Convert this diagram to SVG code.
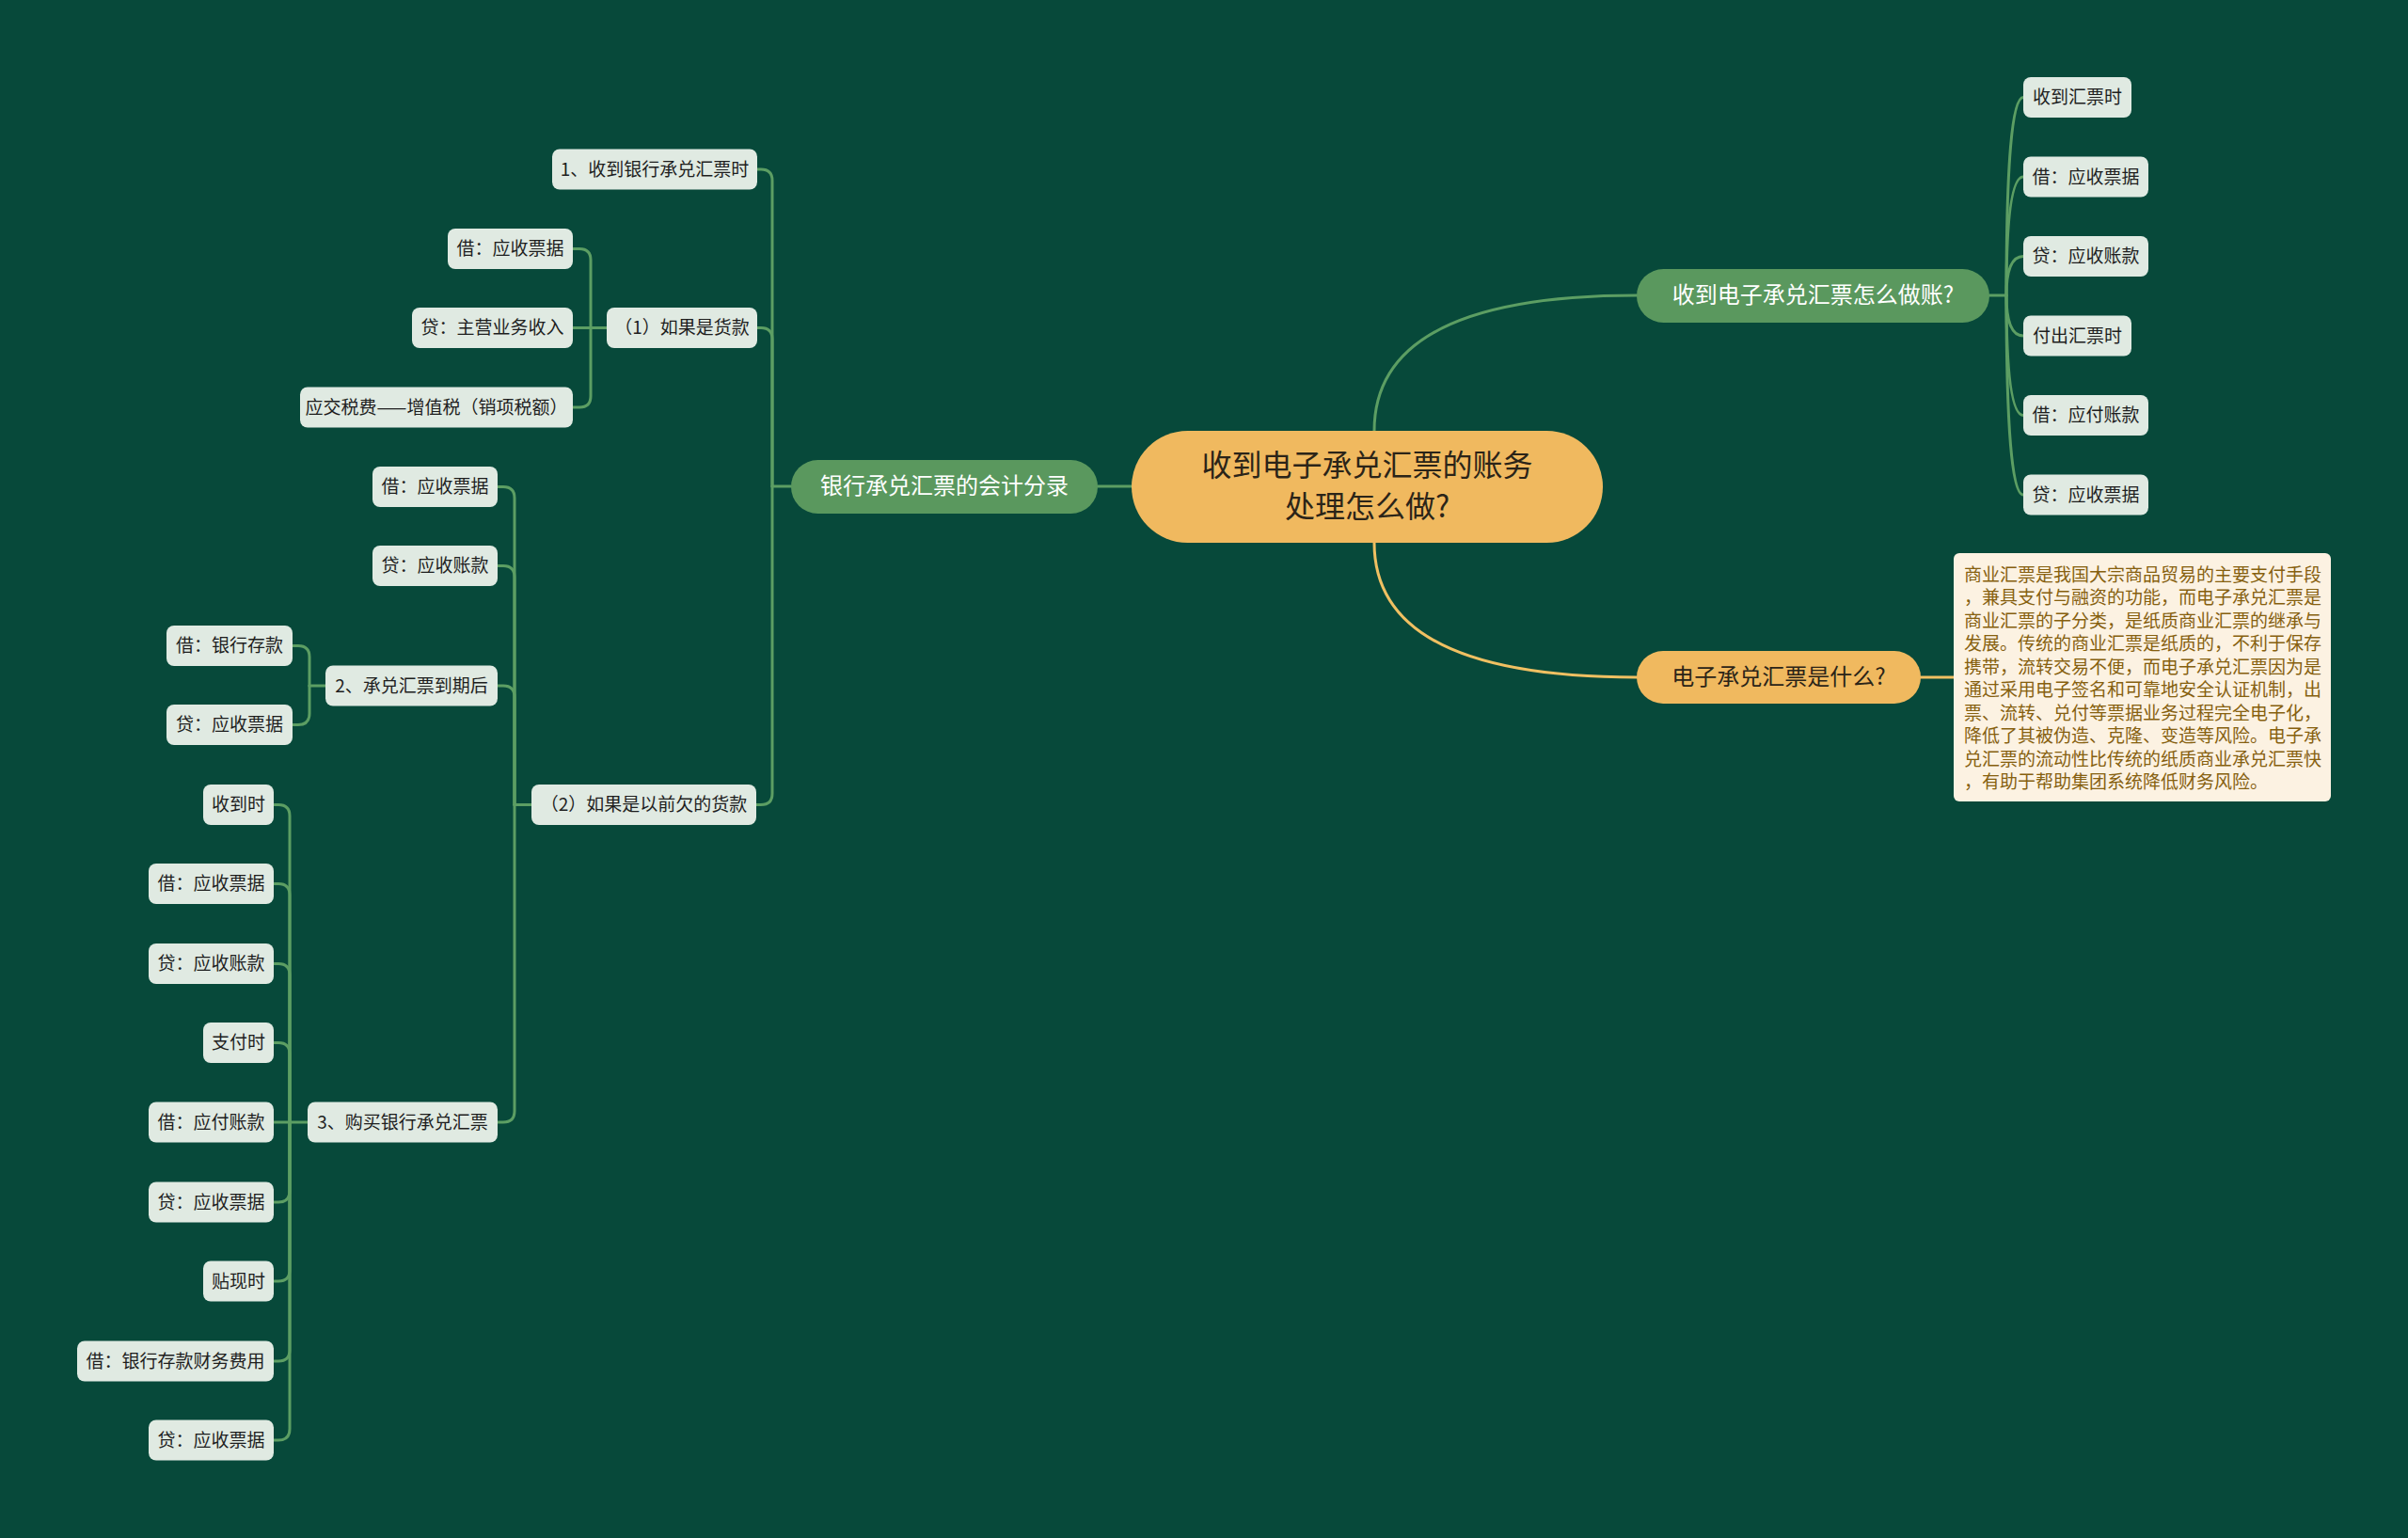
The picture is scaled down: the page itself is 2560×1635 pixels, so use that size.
<svg xmlns="http://www.w3.org/2000/svg" width="2560" height="1635" viewBox="0 0 2560 1635">
<defs>
<style>
text{font-family:"Noto Sans CJK SC","Noto Sans",sans-serif;dominant-baseline:central}
.leaf rect{fill:#E0EAE2}
.leaf text{font-size:19px;fill:#1e1e1e;text-anchor:middle}
.branch rect{fill:#5A985E}
.branch text{font-size:24px;fill:#ffffff;text-anchor:middle}
.gold rect{fill:#F0B95F}
.gold text{fill:#2b2418;text-anchor:middle}
.cg{fill:none;stroke:#5C9E63;stroke-width:3;stroke-linecap:round}
.co{fill:none;stroke:#F0C062;stroke-width:3;stroke-linecap:round}
.desc text{font-size:19px;fill:#86600F}
</style>
</defs>
<rect x="0" y="0" width="2560" height="1635" fill="#07493A"/>

<g id="connectors">
  <path class="cg" d="M1203 517 H1167"/>
  <path class="cg" d="M1461 458 Q1461 314 1740 314"/>
  <path class="co" d="M1461 577 Q1461 720 1740 720"/>
  <path class="co" d="M2042 720 H2077"/>
  <path class="cg" d="M2115 314 H2133"/>
  <path class="cg" d="M2133 314 Q2133 103.5 2151 103.5"/>
  <path class="cg" d="M2133 314 Q2133 188 2151 188"/>
  <path class="cg" d="M2133 314 Q2133 272.5 2151 272.5"/>
  <path class="cg" d="M2133 314 Q2133 357 2151 357"/>
  <path class="cg" d="M2133 314 Q2133 441.5 2151 441.5"/>
  <path class="cg" d="M2133 314 Q2133 526 2151 526"/>
  <path class="cg" d="M841 517 H821"/>
  <path class="cg" d="M821 517 V192 Q821 180 809 180 H805"/>
  <path class="cg" d="M821 517 V360.5 Q821 348.5 809 348.5 H805"/>
  <path class="cg" d="M821 517 V843.5 Q821 855.5 809 855.5 H804"/>
  <path class="cg" d="M645 348.5 H628"/>
  <path class="cg" d="M628 348.5 V276.5 Q628 264.5 616 264.5 H609"/>
  <path class="cg" d="M628 348.5 H609"/>
  <path class="cg" d="M628 348.5 V421 Q628 433 616 433 H609"/>
  <path class="cg" d="M565 855.5 H547"/>
  <path class="cg" d="M547 855.5 V529.5 Q547 517.5 535 517.5 H529"/>
  <path class="cg" d="M547 855.5 V613.5 Q547 601.5 535 601.5 H529"/>
  <path class="cg" d="M547 855.5 V741 Q547 729 535 729 H529"/>
  <path class="cg" d="M547 855.5 V1181 Q547 1193 535 1193 H529"/>
  <path class="cg" d="M346 729 H329"/>
  <path class="cg" d="M329 729 V698.5 Q329 686.5 317 686.5 H311"/>
  <path class="cg" d="M329 729 V758.5 Q329 770.5 317 770.5 H311"/>
  <path class="cg" d="M327 1193 H308"/>
  <path class="cg" d="M308 1193 V867.5 Q308 855.5 296 855.5 H291"/>
  <path class="cg" d="M308 1193 V951.5 Q308 939.5 296 939.5 H291"/>
  <path class="cg" d="M308 1193 V1036.5 Q308 1024.5 296 1024.5 H291"/>
  <path class="cg" d="M308 1193 V1120.5 Q308 1108.5 296 1108.5 H291"/>
  <path class="cg" d="M308 1193 H291"/>
  <path class="cg" d="M308 1193 V1266 Q308 1278 296 1278 H291"/>
  <path class="cg" d="M308 1193 V1350 Q308 1362 296 1362 H291"/>
  <path class="cg" d="M308 1193 V1435 Q308 1447 296 1447 H291"/>
  <path class="cg" d="M308 1193 V1519 Q308 1531 296 1531 H291"/>
</g>

<g id="root" class="gold">
  <rect x="1203" y="458" width="501" height="119" rx="59.5"/>
  <text x="1453.5" y="492" font-size="32">收到电子承兑汇票的账务</text>
  <text x="1453.5" y="536" font-size="32">处理怎么做?</text>
</g>

<g id="branch-left" class="branch">
  <rect x="841" y="489" width="326" height="57" rx="28.5"/>
  <text x="1004" y="514.5">银行承兑汇票的会计分录</text>
</g>
<g id="branch-right1" class="branch">
  <rect x="1740" y="286" width="375" height="57" rx="28.5"/>
  <text x="1927.5" y="311.5">收到电子承兑汇票怎么做账?</text>
</g>
<g id="branch-right2" class="gold">
  <rect x="1740" y="692" width="302" height="56" rx="28"/>
  <text x="1891" y="717" font-size="24">电子承兑汇票是什么?</text>
</g>

<g id="desc" class="desc">
  <rect x="2077" y="588" width="401" height="264" rx="6" fill="#FCF2E2"/>
  <text x="2088" y="609">商业汇票是我国大宗商品贸易的主要支付手段</text>
  <text x="2088" y="633.5">，兼具支付与融资的功能，而电子承兑汇票是</text>
  <text x="2088" y="658">商业汇票的子分类，是纸质商业汇票的继承与</text>
  <text x="2088" y="682.5">发展。传统的商业汇票是纸质的，不利于保存</text>
  <text x="2088" y="707">携带，流转交易不便，而电子承兑汇票因为是</text>
  <text x="2088" y="731.5">通过采用电子签名和可靠地安全认证机制，出</text>
  <text x="2088" y="756">票、流转、兑付等票据业务过程完全电子化，</text>
  <text x="2088" y="780.5">降低了其被伪造、克隆、变造等风险。电子承</text>
  <text x="2088" y="805">兑汇票的流动性比传统的纸质商业承兑汇票快</text>
  <text x="2088" y="829.5">，有助于帮助集团系统降低财务风险。</text>
</g>

<g id="r1" class="leaf"><rect x="2151" y="82" width="115" height="43" rx="8"/><text x="2208.5" y="101.5">收到汇票时</text></g>
<g id="r2" class="leaf"><rect x="2151" y="166.5" width="133" height="43" rx="8"/><text x="2217.5" y="186">借：应收票据</text></g>
<g id="r3" class="leaf"><rect x="2151" y="251" width="133" height="43" rx="8"/><text x="2217.5" y="270.5">贷：应收账款</text></g>
<g id="r4" class="leaf"><rect x="2151" y="335.5" width="115" height="43" rx="8"/><text x="2208.5" y="355">付出汇票时</text></g>
<g id="r5" class="leaf"><rect x="2151" y="420" width="133" height="43" rx="8"/><text x="2217.5" y="439.5">借：应付账款</text></g>
<g id="r6" class="leaf"><rect x="2151" y="504.5" width="133" height="43" rx="8"/><text x="2217.5" y="524">贷：应收票据</text></g>

<g id="a" class="leaf"><rect x="587" y="158.5" width="218" height="43" rx="8"/><text x="696" y="178">1、收到银行承兑汇票时</text></g>
<g id="b" class="leaf"><rect x="645" y="327" width="160" height="43" rx="8"/><text x="725" y="346.5">（1）如果是货款</text></g>
<g id="c" class="leaf"><rect x="565" y="834" width="239" height="43" rx="8"/><text x="684.5" y="853.5">（2）如果是以前欠的货款</text></g>
<g id="b1" class="leaf"><rect x="476" y="243" width="133" height="43" rx="8"/><text x="542.5" y="262.5">借：应收票据</text></g>
<g id="b2" class="leaf"><rect x="438" y="327" width="171" height="43" rx="8"/><text x="523.5" y="346.5">贷：主营业务收入</text></g>
<g id="b3" class="leaf"><rect x="319" y="411.5" width="290" height="43" rx="8"/><text x="464" y="431">应交税费——增值税（销项税额）</text></g>
<g id="c1" class="leaf"><rect x="396" y="496" width="133" height="43" rx="8"/><text x="462.5" y="515.5">借：应收票据</text></g>
<g id="c2" class="leaf"><rect x="396" y="580" width="133" height="43" rx="8"/><text x="462.5" y="599.5">贷：应收账款</text></g>
<g id="d" class="leaf"><rect x="346" y="707.5" width="183" height="43" rx="8"/><text x="437.5" y="727">2、承兑汇票到期后</text></g>
<g id="e" class="leaf"><rect x="327" y="1171.5" width="202" height="43" rx="8"/><text x="428" y="1191">3、购买银行承兑汇票</text></g>
<g id="d1" class="leaf"><rect x="177" y="665" width="134" height="43" rx="8"/><text x="244" y="684.5">借：银行存款</text></g>
<g id="d2" class="leaf"><rect x="177" y="749" width="134" height="43" rx="8"/><text x="244" y="768.5">贷：应收票据</text></g>
<g id="e1" class="leaf"><rect x="216" y="834" width="75" height="43" rx="8"/><text x="253.5" y="853.5">收到时</text></g>
<g id="e2" class="leaf"><rect x="158" y="918" width="133" height="43" rx="8"/><text x="224.5" y="937.5">借：应收票据</text></g>
<g id="e3" class="leaf"><rect x="158" y="1003" width="133" height="43" rx="8"/><text x="224.5" y="1022.5">贷：应收账款</text></g>
<g id="e4" class="leaf"><rect x="216" y="1087" width="75" height="43" rx="8"/><text x="253.5" y="1106.5">支付时</text></g>
<g id="e5" class="leaf"><rect x="158" y="1171.5" width="133" height="43" rx="8"/><text x="224.5" y="1191">借：应付账款</text></g>
<g id="e6" class="leaf"><rect x="158" y="1256.5" width="133" height="43" rx="8"/><text x="224.5" y="1276">贷：应收票据</text></g>
<g id="e7" class="leaf"><rect x="216" y="1340.5" width="75" height="43" rx="8"/><text x="253.5" y="1360">贴现时</text></g>
<g id="e8" class="leaf"><rect x="82" y="1425.5" width="209" height="43" rx="8"/><text x="186.5" y="1445">借：银行存款财务费用</text></g>
<g id="e9" class="leaf"><rect x="158" y="1509.5" width="133" height="43" rx="8"/><text x="224.5" y="1529">贷：应收票据</text></g>
</svg>
